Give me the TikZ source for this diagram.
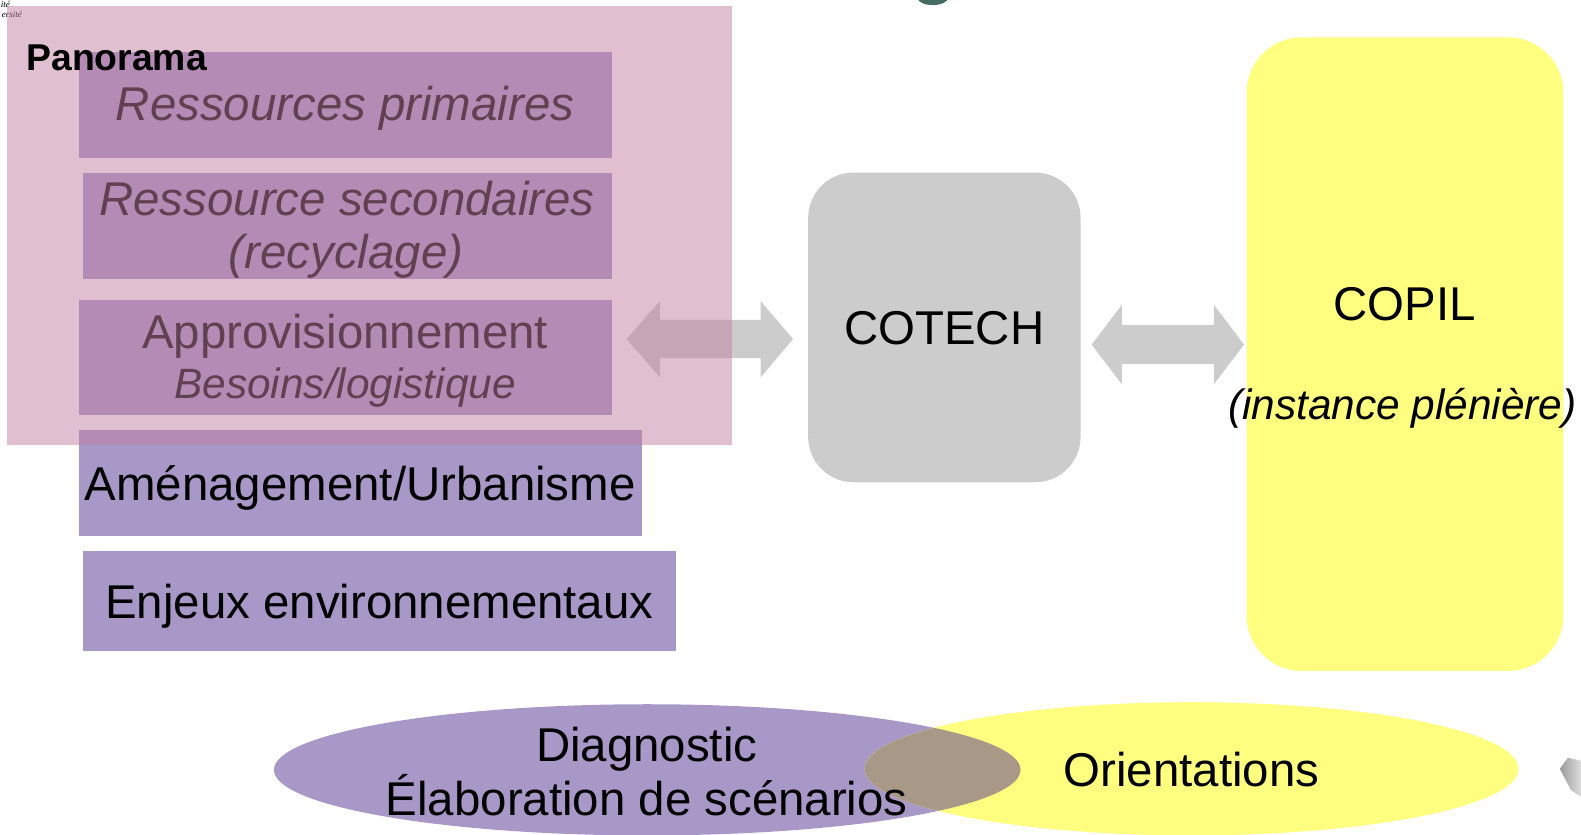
\documentclass[tikz,border=0pt]{standalone}
\usepackage{fontspec}
\setmainfont{Liberation Sans}
\newfontfamily\tinyserif{Liberation Serif}
\usetikzlibrary{shapes.geometric}
\definecolor{lav}{RGB}{168,152,200}
\definecolor{pnk}{RGB}{192,128,162}
\definecolor{gry}{RGB}{204,204,204}
\definecolor{ylw}{RGB}{255,255,128}
\definecolor{ovl}{RGB}{168,152,136}
\definecolor{ttlgreen}{RGB}{69,107,98}
\tikzset{
  box/.style={fill=lav, draw=none, inner sep=0pt, anchor=north west},
  txt/.style={inner sep=0pt, anchor=base, font=\fontsize{47}{56}\selectfont},
  itxt/.style={txt, font=\fontsize{47}{56}\selectfont\itshape},
  blockarrow/.style={fill=gry, draw=none},
  panel/.style={fill=pnk, fill opacity=0.5, draw=none},
}
\begin{document}
\begin{tikzpicture}[x=1pt,y=-1pt]
\useasboundingbox (0,0) rectangle (1567,827.6);

% fragments at the edges
\node[inner sep=0pt, anchor=base east, font=\tinyserif\itshape\fontsize{9}{10}\selectfont] (frag1) at (10,7) {ité};
\node[inner sep=0pt, anchor=base east, font=\tinyserif\itshape\fontsize{9}{10}\selectfont] (frag2) at (22,17) {ersité};
\fill[ttlgreen] (924.5,-2) ellipse [x radius=15pt, y radius=7pt];
\shade[left color=gray!80, right color=gray!25, draw=none] (1546,762) -- (1554,751) -- (1567,754) -- (1567,790) -- (1557,783) -- cycle;

% left boxes
\node[box, minimum width=528, minimum height=105] (b1) at (78,51) {};
\node[box, minimum width=524, minimum height=105] (b2) at (82,171) {};
\node[box, minimum width=528, minimum height=114] (b3) at (78,297) {};
\node[box, minimum width=558, minimum height=105] (b4) at (78,426) {};
\node[box, minimum width=588, minimum height=99] (b5) at (82,546) {};

\node[itxt] (t1) at (342,119.5) {Ressources primaires};
\node[itxt] (t2a) at (344,214) {Ressource secondaires};
\node[itxt] (t2b) at (343,266) {(recyclage)};
\node[txt] (t3a) at (342,345.5) {Approvisionnement};
\node[txt, font=\fontsize{42}{48}\selectfont\itshape] (t3b) at (342,395) {Besoins/logistique};
\node[txt] (t4) at (357,496) {Aménagement/Urbanisme};
\node[txt] (t5) at (376,613) {Enjeux environnementaux};

% arrow panorama <-> cotech
\fill[blockarrow] (621,336) -- (654,298.5) -- (654,317) -- (754,317) -- (754,298.5) -- (786,336)
  -- (754,374) -- (754,355) -- (654,355) -- (654,374) -- cycle;

% panorama overlay
\fill[panel] (7,6) rectangle (726,441);
\node[inner sep=0pt, anchor=base west, font=\fontsize{37}{44}\selectfont\bfseries] (pano) at (26,69.5) {Panorama};

% COTECH
\node[fill=gry, draw=none, rounded corners=45pt, minimum width=270, minimum height=307, inner sep=0pt] (cotech) at (936,324.5) {};
\node[txt] (cotecht) at (936,341) {COTECH};

% arrow cotech <-> copil
\fill[blockarrow] (1082,341.5) -- (1112,302) -- (1112,322) -- (1203,322) -- (1203,302) -- (1233,341.5)
  -- (1203,381) -- (1203,361) -- (1112,361) -- (1112,381) -- cycle;

% COPIL
\node[fill=ylw, draw=none, rounded corners=55pt, minimum width=314, minimum height=628, inner sep=0pt] (copil) at (1392.5,351) {};
\node[txt] (copilt) at (1392,318) {COPIL};
\node[txt, font=\fontsize{42}{50}\selectfont\itshape] (copils) at (1390,416) {(instance plénière)};

% ellipses
\node[ellipse, fill=lav, draw=none, minimum width=740, minimum height=130, inner sep=0pt] (diag) at (641.5,763) {};
\node[ellipse, fill=ylw, draw=none, minimum width=648, minimum height=132, inner sep=0pt] (orient) at (1181,762) {};
\begin{scope}
  \clip (641.5,763) ellipse [x radius=370pt, y radius=65pt];
  \fill[ovl] (1181,762) ellipse [x radius=324pt, y radius=66pt];
\end{scope}
\node[txt] (diagt1) at (641,755) {Diagnostic};
\node[txt] (diagt2) at (641,808) {Élaboration de scénarios};
\node[txt] (oritxt) at (1181,780) {Orientations};
\end{tikzpicture}
\end{document}
